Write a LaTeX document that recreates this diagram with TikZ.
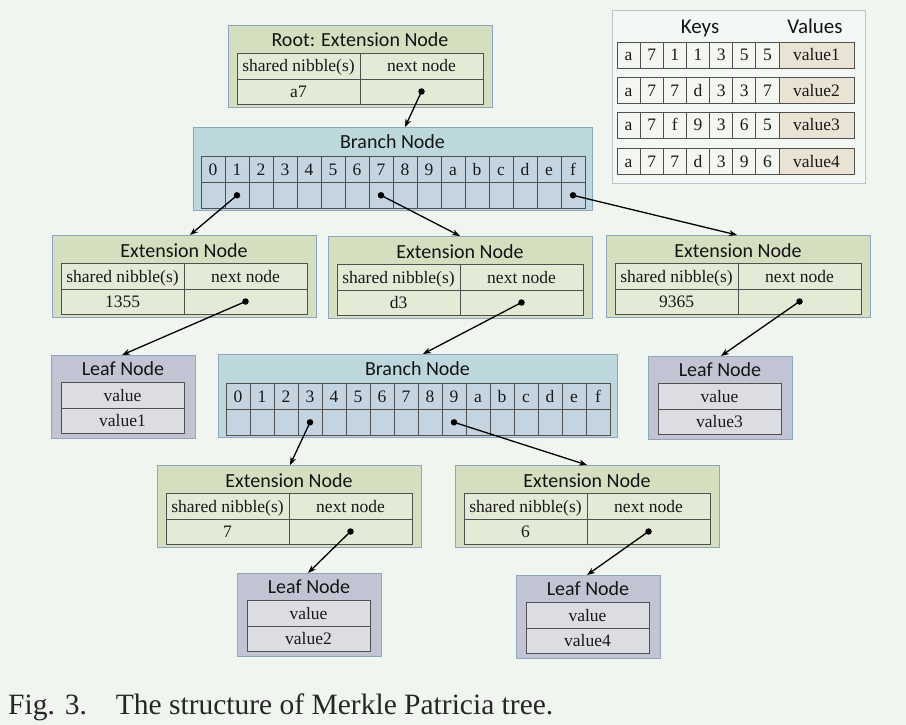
\documentclass[tikz,border=0pt]{standalone}
\usepackage{fontspec}
\setmainfont{Liberation Serif}
\newfontfamily\titlefont{Carlito}
\usetikzlibrary{arrows.meta}
\definecolor{bgcol}{HTML}{F0F5F0}
\definecolor{extfill}{HTML}{D5DEBF}
\definecolor{extcell}{HTML}{E3EAD6}
\definecolor{brfill}{HTML}{BCD8DC}
\definecolor{brcell}{HTML}{C4D5E1}
\definecolor{leaffill}{HTML}{C3C4D3}
\definecolor{leafcell}{HTML}{DCDDE3}
\definecolor{boxborder}{HTML}{8FA5C0}
\definecolor{gridcol}{HTML}{505050}
\definecolor{keycell}{HTML}{F4F7F1}
\definecolor{valcell}{HTML}{EAE3D3}
\definecolor{keysbox}{HTML}{F4F8F4}
\definecolor{keysborder}{HTML}{B8C4CC}
\tikzset{
  outerbox/.style={draw=boxborder, line width=0.9pt, inner sep=0pt, anchor=north west},
  cellbox/.style={draw=gridcol, line width=0.7pt},
  titletext/.style={font=\titlefont\fontsize{20}{24}\selectfont, inner sep=0pt, text height=13pt, text depth=0pt, text=black!92},
  celltext/.style={font=\fontsize{17.5}{21}\selectfont, inner sep=0pt, text height=14pt, text depth=2pt, text=black!90},
  ptr/.style={-{Stealth[length=8pt,width=6pt]}, line width=1.3pt},
  dotnode/.style={circle, fill=black, inner sep=0pt, minimum size=6.5pt},
}
% extension node: name, left, top, title, nibbles
\newcommand\ExtNode[5]{%
\begin{scope}[shift={(#2,#3)}]
  \node[outerbox, fill=extfill, minimum width=264pt, minimum height=82pt] (#1) at (0,0) {};
  \draw[cellbox, fill=extcell] (9,28) rectangle (255,79);
  \draw[cellbox] (9,54) -- (255,54) (132,28) -- (132,79);
  \node[titletext] (#1-title) at (132,15.5) {#4};
  \node[celltext] (#1-h1) at (70.5,41) {shared nibble(s)};
  \node[celltext] (#1-h2) at (193.5,41) {next node};
  \node[celltext] (#1-v) at (70.5,66.5) {#5};
  \node[dotnode] (#1-dot) at (193.5,66.5) {};
\end{scope}}
% branch node: name, left, top, dotted cells
\newcommand\BranchNode[4]{%
\begin{scope}[shift={(#2,#3)}]
  \node[outerbox, fill=brfill, minimum width=399pt, minimum height=83pt] (#1) at (0,0) {};
  \node[titletext] (#1-title) at (199.5,15) {Branch Node};
  \draw[cellbox, fill=brcell] (8,29) rectangle (392,81);
  \draw[cellbox] (8,55.5) -- (392,55.5);
  \foreach \i in {1,...,15} \draw[cellbox] (8+24*\i,29) -- (8+24*\i,81);
  \foreach \c [count=\i from 0] in {0,1,2,3,4,5,6,7,8,9,a,b,c,d,e,f}
    \node[celltext] (#1-k\i) at (20+24*\i,42.3) {\c};
  \foreach \d in {#4} \node[dotnode] (#1-d\d) at (20+24*\d,68.3) {};
\end{scope}}
% leaf node: name, left, top, value
\newcommand\LeafNode[4]{%
\begin{scope}[shift={(#2,#3)}]
  \node[outerbox, fill=leaffill, minimum width=144pt, minimum height=83pt] (#1) at (0,0) {};
  \node[titletext] (#1-title) at (72,13.5) {Leaf Node};
  \draw[cellbox, fill=leafcell] (10,27) rectangle (133,78);
  \draw[cellbox] (10,53) -- (133,53);
  \node[celltext] (#1-h) at (71.5,40) {value};
  \node[celltext] (#1-v) at (71.5,65.5) {#4};
\end{scope}}
% key row: name, top, key list, value
\newcommand\KeyRow[4]{%
\begin{scope}[shift={(617,#2)}]
  \foreach \c [count=\i from 0] in {#3} {
    \draw[cellbox, fill=keycell] (23.14*\i,0) rectangle (23.14*\i+23.14,26);
    \node[celltext] (#1-c\i) at (23.14*\i+11.57,13) {\c};
  }
  \draw[cellbox, fill=valcell] (162,0) rectangle (237,26);
  \node[celltext] (#1-v) at (199.5,13) {#4};
\end{scope}}
\begin{document}
\begin{tikzpicture}[x=1pt,y=-1pt]
\useasboundingbox (0,0) rectangle (906,725);
\fill[bgcol] (0,0) rectangle (906,725);

% keys table
\node[draw=keysborder, line width=0.9pt, fill=keysbox, minimum width=253pt, minimum height=173pt, inner sep=0pt, anchor=north west] (keys) at (612,10) {};
\node[titletext, font=\titlefont\fontsize{21}{25}\selectfont] (keys-t) at (700,27) {Keys};
\node[titletext, font=\titlefont\fontsize{21}{25}\selectfont] (vals-t) at (815,27) {Values};
\KeyRow{r1}{42}{a,7,1,1,3,5,5}{value1}
\KeyRow{r2}{77}{a,7,7,d,3,3,7}{value2}
\KeyRow{r3}{112}{a,7,f,9,3,6,5}{value3}
\KeyRow{r4}{148}{a,7,7,d,3,9,6}{value4}

% nodes
\ExtNode{root}{228}{25}{Root: Extension Node}{a7}
\BranchNode{b1}{193}{127}{1,7,15}
\ExtNode{e1}{52}{235}{Extension Node}{1355}
\ExtNode{e2}{328}{236}{Extension Node}{d3}
\ExtNode{e3}{606}{235}{Extension Node}{9365}
\LeafNode{l1}{51}{355}{value1}
\BranchNode{b2}{218}{354}{3,9}
\LeafNode{l3}{648}{356}{value3}
\ExtNode{e4}{157}{465}{Extension Node}{7}
\ExtNode{e5}{455}{465}{Extension Node}{6}
\LeafNode{l2}{237}{573}{value2}
\LeafNode{l4}{516}{575}{value4}

% arrow targets
\coordinate (b1-in) at (405,127);
\coordinate (e1-in) at (190,235);
\coordinate (e2-in) at (460,236);
\coordinate (e3-in) at (737,235);
\coordinate (l1-in) at (122,355);
\coordinate (b2-in) at (423,354);
\coordinate (l3-in) at (721,356);
\coordinate (e4-in) at (290,465);
\coordinate (e5-in) at (587,465);
\coordinate (l2-in) at (308,573);
\coordinate (l4-in) at (587,575);

% connectors
\draw[ptr] (root-dot.center) -- (b1-in);
\draw[ptr] (b1-d1.center) -- (e1-in);
\draw[ptr] (b1-d7.center) -- (e2-in);
\draw[ptr] (b1-d15.center) -- (e3-in);
\draw[ptr] (e1-dot.center) -- (l1-in);
\draw[ptr] (e2-dot.center) -- (b2-in);
\draw[ptr] (e3-dot.center) -- (l3-in);
\draw[ptr] (b2-d3.center) -- (e4-in);
\draw[ptr] (b2-d9.center) -- (e5-in);
\draw[ptr] (e4-dot.center) -- (l2-in);
\draw[ptr] (e5-dot.center) -- (l4-in);

% caption
\node[font=\fontsize{29.5}{34}\selectfont, text=black!85, anchor=base west, inner sep=0pt] (caption) at (8,714) {Fig. 3.\hspace{29pt}The structure of Merkle Patricia tree.};
\end{tikzpicture}
\end{document}
